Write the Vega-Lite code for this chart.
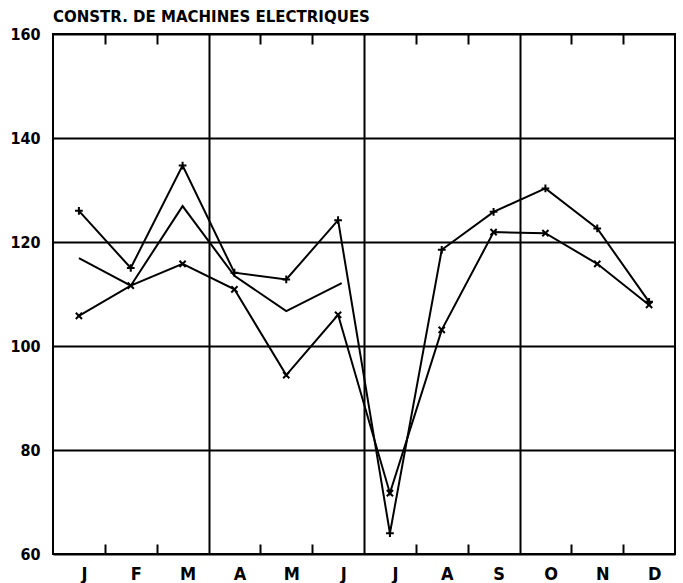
{
  "$schema": "https://vega.github.io/schema/vega-lite/v6.json",
  "width": 622,
  "height": 520,
  "autosize": {"type": "none"},
  "padding": {"left": 53, "top": 34, "right": 8, "bottom": 29},
  "background": "white",
  "title": {
    "text": "CONSTR. DE MACHINES ELECTRIQUES",
    "anchor": "start",
    "frame": "group",
    "offset": 1,
    "font": "DejaVu Sans",
    "fontSize": 15,
    "fontWeight": "bold",
    "color": "black"
  },
  "config": {
    "view": {"stroke": "black", "strokeWidth": 2},
    "axis": {"labelColor": "black", "labelFont": "DejaVu Sans Condensed, DejaVu Sans", "labelFontWeight": "bold"}
  },
  "data": {
    "values": [
      {"m": 1, "series": "plus", "v": 126},
      {"m": 2, "series": "plus", "v": 115},
      {"m": 3, "series": "plus", "v": 134.7},
      {"m": 4, "series": "plus", "v": 114.1},
      {"m": 5, "series": "plus", "v": 112.8},
      {"m": 6, "series": "plus", "v": 124.2},
      {"m": 7, "series": "plus", "v": 64},
      {"m": 8, "series": "plus", "v": 118.5},
      {"m": 9, "series": "plus", "v": 125.8},
      {"m": 10, "series": "plus", "v": 130.3},
      {"m": 11, "series": "plus", "v": 122.6},
      {"m": 12, "series": "plus", "v": 108.5},
      {"m": 1, "series": "x", "v": 105.8},
      {"m": 2, "series": "x", "v": 111.6},
      {"m": 3, "series": "x", "v": 115.8},
      {"m": 4, "series": "x", "v": 110.9},
      {"m": 5, "series": "x", "v": 94.4},
      {"m": 6, "series": "x", "v": 106},
      {"m": 7, "series": "x", "v": 71.7},
      {"m": 8, "series": "x", "v": 103.1},
      {"m": 9, "series": "x", "v": 121.9},
      {"m": 10, "series": "x", "v": 121.7},
      {"m": 11, "series": "x", "v": 115.8},
      {"m": 12, "series": "x", "v": 107.9},
      {"m": 1, "series": "plain", "v": 116.9},
      {"m": 2, "series": "plain", "v": 111.6},
      {"m": 3, "series": "plain", "v": 126.9},
      {"m": 4, "series": "plain", "v": 113.5},
      {"m": 5, "series": "plain", "v": 106.7},
      {"m": 6.07, "series": "plain", "v": 112.1}
    ]
  },
  "layer": [
    {
      "mark": {"type": "line", "color": "black", "strokeWidth": 2},
      "encoding": {
        "x": {
          "field": "m",
          "type": "quantitative",
          "scale": {"domain": [0.5, 12.5], "nice": false, "zero": false},
          "axis": {
            "orient": "bottom",
            "title": null,
            "values": [0.5, 1.5, 2.5, 3.5, 4.5, 5.5, 6.5, 7.5, 8.5, 9.5, 10.5, 11.5],
            "labelExpr": "['J','F','M','A','M','J','J','A','S','O','N','D'][floor(datum.value)]",
            "labelFontSize": 18,
            "labelPadding": 11,
            "labelOffset": 31,
            "labelAlign": "center",
            "labelFlush": false,
            "ticks": false,
            "domain": false,
            "grid": true,
            "gridColor": "black",
            "gridWidth": 2,
            "gridOpacity": {"condition": {"test": "datum.value == 3.5 || datum.value == 6.5 || datum.value == 9.5", "value": 1}, "value": 0}
          }
        },
        "y": {
          "field": "v",
          "type": "quantitative",
          "scale": {"domain": [60, 160], "nice": false, "zero": false},
          "axis": {
            "title": null,
            "values": [60, 80, 100, 120, 140, 160],
            "labelFontSize": 16,
            "labelPadding": 13,
            "ticks": false,
            "domain": false,
            "grid": true,
            "gridColor": "black",
            "gridWidth": 2
          }
        },
        "detail": {"field": "series"}
      }
    },
    {
      "transform": [{"filter": "datum.series == 'plus'"}],
      "mark": {"type": "point", "filled": false, "stroke": "black", "strokeWidth": 2, "size": 60, "opacity": 1, "shape": "M-1,0L1,0M0,-1L0,1"},
      "encoding": {
        "x": {
          "field": "m",
          "type": "quantitative",
          "axis": {
            "orient": "bottom",
            "offset": -10,
            "title": null,
            "values": [1.5, 2.5, 4.5, 5.5, 7.5, 8.5, 10.5, 11.5],
            "labels": false,
            "ticks": true,
            "tickSize": 10,
            "tickWidth": 2,
            "tickColor": "black",
            "domain": false,
            "grid": false
          }
        },
        "y": {"field": "v", "type": "quantitative"}
      }
    },
    {
      "transform": [{"filter": "datum.series == 'x'"}],
      "mark": {"type": "point", "filled": false, "stroke": "black", "strokeWidth": 2, "size": 60, "opacity": 1, "shape": "M-0.8,-0.8L0.8,0.8M-0.8,0.8L0.8,-0.8"},
      "encoding": {
        "x": {
          "field": "m",
          "type": "quantitative",
          "axis": {
            "orient": "top",
            "offset": -10,
            "title": null,
            "values": [1.5, 2.5, 4.5, 5.5, 7.5, 8.5, 10.5, 11.5],
            "labels": false,
            "ticks": true,
            "tickSize": 10,
            "tickWidth": 2,
            "tickColor": "black",
            "domain": false,
            "grid": false
          }
        },
        "y": {"field": "v", "type": "quantitative"}
      }
    }
  ],
  "resolve": {"axis": {"x": "independent"}}
}
